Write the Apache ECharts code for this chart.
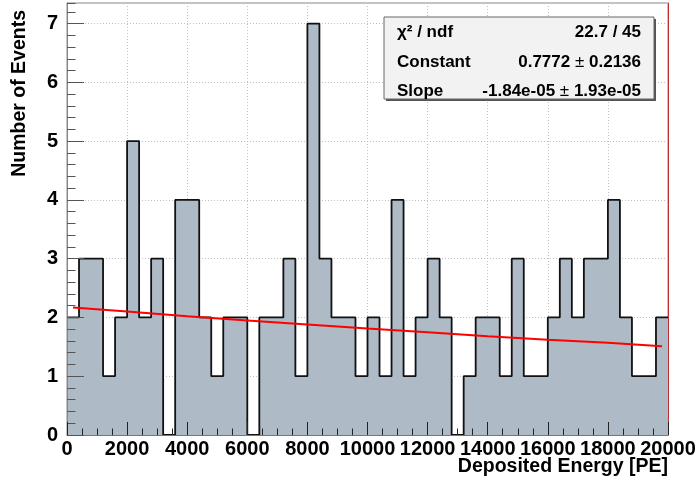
<!DOCTYPE html>
<html><head><meta charset="utf-8">
<script src="https://cdn.jsdelivr.net/npm/echarts@6/dist/echarts.min.js"></script>
<style>html,body{margin:0;padding:0;background:#fff}#c{width:699px;height:484px}</style>
</head><body><div id="c"></div>
<script>
// ---- data ----
const binEdges = [0,400,800,1200,1600,2000,2400,2800,3200,3600,4000,4400,4800,5200,5600,6000,6400,6800,7200,7600,
  8000,8400,8800,9200,9600,10000,10400,10800,11200,11600,12000,12400,12800,13200,13600,14000,14400,14800,15200,15600,
  16000,16400,16800,17200,17600,18000,18400,18800,19200,19600,20000];
const counts = [2,3,3,1,2,5,2,3,0,4, 4,2,1,2,2,0,2,2,3,1, 7,3,2,2,1,2,1,4,1,2,
  3,2,0,1,2,2,1,3,1,1, 2,3,2,3,3,4,2,1,1,2];
const fitX = [200,2000,4000,6000,8000,10000,12000,14000,16000,18000,19800];
const fitY = [2.17,2.10,2.02,1.95,1.88,1.81,1.75,1.68,1.62,1.57,1.51];
const xTitle = 'Deposited Energy [PE]';
const yTitle = 'Number of Events';
const statLabels = ['χ² / ndf','Constant','Slope'];
const statValues = [['22.7 / 45'],['0.7772','0.2136'],['-1.84e-05','1.93e-05']];

// ---- build ----
const histData = counts.map((c,i)=>[binEdges[i], c]);
histData.push([binEdges[binEdges.length-1], counts[counts.length-1]]);
const fitData = fitX.map((x,i)=>[x, fitY[i]]);

const FF = '"Liberation Sans", Arial, Helvetica, sans-serif';
const lab = {color:'#000', fontSize:20, fontWeight:'bold', fontFamily:FF};
const dotted = {show:true, lineStyle:{color:'#c0c0c0', width:1, type:[1,2]}};
const XMIN=0, XMAX=20000, YMAX=7.35;

const statGraphics = [];
const rowY = [32, 62, 91];
statLabels.forEach((t,i)=>{
  statGraphics.push({type:'text', x:397, y:rowY[i], z:110, style:{text:t, font:'bold 17px '+FF, fill:'#000', textAlign:'left', textVerticalAlign:'middle'}});
  const v = statValues[i];
  const txt = v.length===1 ? '{b|'+v[0]+'}' : '{b|'+v[0]+'}{pm| ± }{b|'+v[1]+'}';
  statGraphics.push({type:'text', x:641, y:rowY[i], z:110, style:{text:txt, textAlign:'right', textVerticalAlign:'middle',
    rich:{b:{font:'bold 17px '+FF, fill:'#000'}, pm:{font:'17px '+FF, fill:'#000'}}}});
});

const option = {
  animation:false,
  backgroundColor:'#fff',
  grid:{left:67, right:31, top:3, bottom:49, show:true, borderColor:'#888', borderWidth:1},
  xAxis:[
    {type:'value', min:XMIN, max:XMAX, interval:2000, z:0,
      axisLine:{show:false}, axisTick:{show:false}, axisLabel:{show:false}, splitLine:dotted},
    {type:'value', min:XMIN, max:XMAX, interval:2000, z:10, position:'bottom',
      axisLine:{show:true, lineStyle:{color:'#777'}},
      axisTick:{show:true, inside:true, length:13, lineStyle:{color:'#222'}},
      minorTick:{show:true, splitNumber:4, length:6.5, lineStyle:{color:'#222'}},
      splitLine:{show:false},
      axisLabel:Object.assign({margin:4, formatter:v=>String(v)}, lab)}
  ],
  yAxis:[
    {type:'value', min:0, max:YMAX, interval:1, z:0,
      axisLine:{show:false}, axisTick:{show:false}, axisLabel:{show:false}, splitLine:dotted},
    {type:'value', min:0, max:YMAX, interval:1, position:'left', z:10,
      axisLine:{show:true, lineStyle:{color:'#888'}},
      axisTick:{show:true, inside:true, length:17, lineStyle:{color:'#555'}},
      splitLine:{show:false},
      axisLabel:Object.assign({margin:9, showMaxLabel:false}, lab)},
    {type:'value', min:0, max:YMAX, interval:0.2, position:'left', z:10,
      axisLine:{show:false},
      axisTick:{show:true, inside:true, length:8.5, lineStyle:{color:'#555'}},
      splitLine:{show:false}, axisLabel:{show:false}},
    {type:'value', min:0, max:YMAX, position:'right', z:0,
      axisLine:{show:true, lineStyle:{color:'#c03030', width:1}},
      axisTick:{show:false}, splitLine:{show:false}, axisLabel:{show:false}}
  ],
  series:[
    {type:'line', xAxisIndex:0, yAxisIndex:0, step:'end', data:histData, symbol:'none',
      lineStyle:{color:'#111', width:1.8}, areaStyle:{color:'#aebbc7', opacity:1, origin:'start'}, z:2},
    {type:'line', xAxisIndex:0, yAxisIndex:0, data:fitData, symbol:'none', smooth:false,
      lineStyle:{color:'#ff0000', width:2}, z:3}
  ],
  graphic:[
    {type:'text', x:20, y:10, rotation:Math.PI/2, style:{text:yTitle, font:'bold 19.5px '+FF, fill:'#000', textAlign:'right', textVerticalAlign:'middle'}},
    {type:'text', x:668, y:467, style:{text:xTitle, font:'bold 19.5px '+FF, fill:'#000', textAlign:'right', textVerticalAlign:'middle'}},
    {type:'rect', shape:{x:386, y:19, width:270, height:82}, z:100, style:{fill:'#555'}},
    {type:'rect', shape:{x:384, y:17, width:270, height:82}, z:101, style:{fill:'#f2f2f2', stroke:'#666', lineWidth:1}}
  ].concat(statGraphics)
};
const chart = echarts.init(document.getElementById('c'), null, {renderer:'canvas'});
chart.setOption(option);
</script></body></html>
